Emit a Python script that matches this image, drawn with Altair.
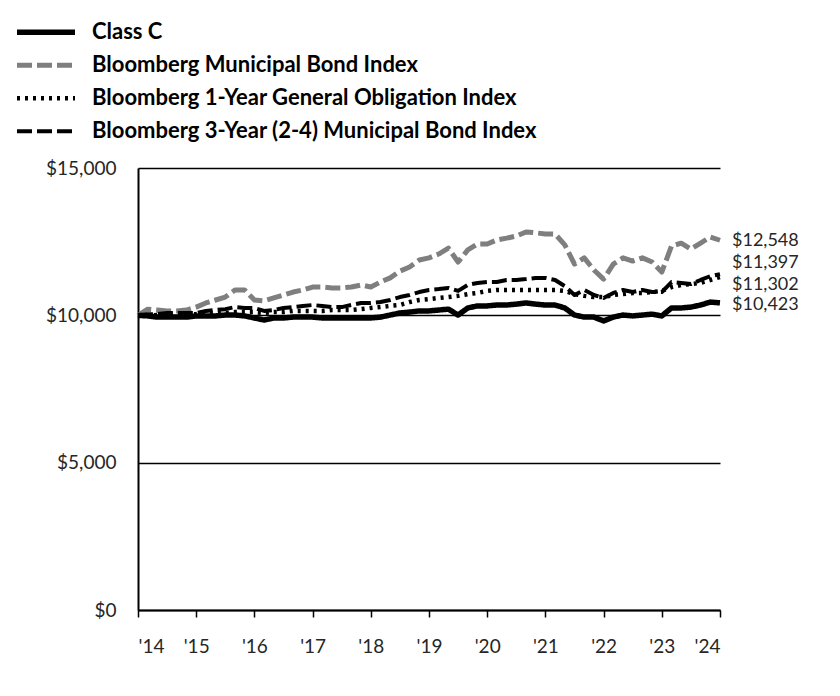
import altair as alt
import pandas as pd

series_names = [
    "Class C",
    "Bloomberg Municipal Bond Index",
    "Bloomberg 1-Year General Obligation Index",
    "Bloomberg 3-Year (2-4) Municipal Bond Index",
]

# bimonthly observations, 2014 -> 2024 (61 points)
class_c = [10000, 9980, 9940, 9940, 9940, 9940, 9980, 9980, 9980, 10010, 10010,
           9980, 9910, 9840, 9910, 9910, 9940, 9940, 9940, 9910, 9910,
           9910, 9910, 9910, 9910, 9940, 10010, 10080, 10110, 10150, 10150,
           10180, 10210, 10010, 10250, 10320, 10320, 10350, 10350, 10380, 10420,
           10380, 10350, 10350, 10250, 10010, 9940, 9940, 9810, 9940, 10010,
           9980, 10010, 10040, 9980, 10250, 10250, 10280, 10350, 10450, 10423]

muni = [10000, 10210, 10180, 10150, 10150, 10180, 10280, 10420, 10520, 10620, 10860,
        10860, 10520, 10490, 10590, 10690, 10790, 10860, 10960, 10960, 10930,
        10930, 10960, 11030, 10960, 11130, 11270, 11500, 11640, 11880, 11950,
        12080, 12280, 11810, 12220, 12420, 12420, 12560, 12620, 12690, 12830,
        12800, 12760, 12760, 12390, 11740, 11950, 11540, 11230, 11740, 11950,
        11840, 11950, 11810, 11470, 12350, 12450, 12250, 12450, 12660, 12548]

one_year = [10000, 10000, 10010, 10010, 10040, 10040, 10040, 10080, 10080, 10080, 10110,
            10110, 10110, 10080, 10110, 10110, 10150, 10150, 10150, 10150, 10180,
            10180, 10180, 10210, 10250, 10280, 10320, 10350, 10450, 10520, 10550,
            10590, 10620, 10660, 10720, 10760, 10830, 10860, 10860, 10860, 10860,
            10860, 10860, 10860, 10830, 10720, 10660, 10620, 10620, 10690, 10720,
            10760, 10760, 10790, 10830, 10960, 11030, 11060, 11100, 11200, 11302]

three_year = [10000, 10040, 10040, 10080, 10080, 10080, 10080, 10150, 10180, 10210, 10280,
              10250, 10250, 10150, 10180, 10250, 10280, 10320, 10350, 10320, 10280,
              10280, 10350, 10420, 10420, 10450, 10520, 10620, 10690, 10790, 10860,
              10890, 10930, 10830, 11030, 11100, 11130, 11130, 11200, 11200, 11230,
              11270, 11270, 11200, 10990, 10690, 10860, 10690, 10590, 10760, 10860,
              10790, 10860, 10790, 10790, 11130, 11100, 11060, 11200, 11330, 11397]

periods = [2014 + i / 6 for i in range(61)]
year_ticks = list(range(2014, 2025))
y_ticks = [0, 5000, 10000, 15000]

end_labels = ["$12,548", "$11,397", "$11,302", "$10,423"]
end_values = [12548, 11397, 11302, 10423]
end_nudge = [1, -11, 8, 2]

colors = ["#000000", "#7f7f7f", "#000000", "#000000"]
dashes = [[1, 0], [15, 5], [3, 5], [15, 5]]
widths = [5.5, 4, 4, 4.5]

draw_order = [1, 2, 3, 0]
series_data = [class_c, muni, one_year, three_year]
rows = []
for k in draw_order:
    for t, v in zip(periods, series_data[k]):
        rows.append({"t": t, "value": v, "series": series_names[k]})
df = pd.DataFrame(rows)

x_scale = alt.Scale(domain=[2014, 2024], nice=False, zero=False)
y_scale = alt.Scale(domain=[0, 15000], nice=False)

legend = alt.Legend(
    title=None, orient="none", legendX=-124, legendY=-152,
    symbolType="stroke", symbolSize=3364, labelFont="Lato", labelFontSize=22,
    labelFontWeight="bold", labelColor="#000000", clipHeight=32.3, rowPadding=0,
    labelOffset=14, symbolOffset=0, padding=0, labelLimit=1000,
)

lines = alt.Chart(df).mark_line(strokeCap="butt", strokeJoin="round").encode(
    x=alt.X("t:Q", scale=x_scale, axis=alt.Axis(
        values=year_ticks, labelExpr="\"'\" + substring(toString(datum.value), 2)",
        title=None, grid=False, domainColor="#000000", domainWidth=2,
        tickColor="#000000", tickWidth=1.5, tickSize=7, labelPadding=20,
        labelFont="Lato", labelFontSize=19, labelColor="#262626")),
    y=alt.Y("value:Q", scale=y_scale, axis=alt.Axis(
        values=y_ticks, format="$,.0f", title=None, grid=True, gridColor="#000000",
        gridWidth=1.5, ticks=False, domainColor="#000000", domainWidth=2,
        labelPadding=22, labelFont="Lato", labelFontSize=19, labelColor="#262626")),
    color=alt.Color("series:N", scale=alt.Scale(domain=series_names, range=colors), legend=legend),
    strokeDash=alt.StrokeDash("series:N", scale=alt.Scale(domain=series_names, range=dashes), legend=legend),
    strokeWidth=alt.StrokeWidth("series:N", scale=alt.Scale(domain=series_names, range=widths), legend=legend),
)

layers = [lines]
for lab, val, nud in zip(end_labels, end_values, end_nudge):
    d = pd.DataFrame({"t": [2024], "value": [val], "label": [lab]})
    layers.append(
        alt.Chart(d).mark_text(align="left", baseline="middle", dx=12, dy=nud,
                               font="Lato", fontSize=18, color="#262626").encode(
            x=alt.X("t:Q", scale=x_scale),
            y=alt.Y("value:Q", scale=y_scale),
            text="label:N",
        )
    )

chart = alt.layer(*layers).properties(
    width=582, height=442,
    autosize=alt.AutoSizeParams(type="none"),
    padding={"left": 130, "top": 160, "right": 110, "bottom": 80},
).configure_view(stroke=None)

chart.save("out.html", embed_options={"renderer": "svg", "actions": False})
